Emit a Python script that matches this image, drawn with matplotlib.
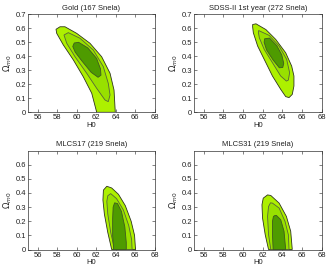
import numpy as np
import matplotlib
matplotlib.use('Agg')
import matplotlib.pyplot as plt

plt.rcParams['font.family'] = ['Liberation Sans', 'DejaVu Sans']

# Contour outlines (H0, Omega_m0): outer (3 sigma), middle (2 sigma), inner (1 sigma)
gold_outer_h = [57.88, 58.29, 58.8, 60.0, 61.37, 62.57, 63.43, 63.84, 63.97, 62.06, 61.55, 60.68, 59.66, 58.63, 57.95]
gold_outer_om = [0.593, 0.611, 0.611, 0.564, 0.493, 0.397, 0.279, 0.159, 0.0, 0.0, 0.136, 0.254, 0.374, 0.481, 0.564]
gold_mid_h = [58.7, 59.14, 60.34, 61.71, 62.74, 63.25, 63.43, 63.25, 62.91, 62.06, 61.03, 59.83, 58.98]
gold_mid_om = [0.552, 0.569, 0.529, 0.445, 0.326, 0.207, 0.124, 0.076, 0.088, 0.171, 0.279, 0.397, 0.493]
gold_in_h = [59.75, 60.2, 61.15, 62.05, 62.45, 62.5, 62.2, 61.5, 60.5, 59.85, 59.6]
gold_in_om = [0.495, 0.5, 0.46, 0.385, 0.31, 0.265, 0.25, 0.285, 0.37, 0.43, 0.47]

sdss_outer_h = [60.98, 61.32, 62.33, 63.34, 64.35, 64.96, 65.19, 65.19, 65.02, 64.69, 64.35, 63.84, 63.0, 62.16, 61.49, 61.05, 60.98]
sdss_outer_om = [0.627, 0.632, 0.591, 0.52, 0.425, 0.33, 0.259, 0.188, 0.128, 0.105, 0.112, 0.164, 0.259, 0.378, 0.473, 0.568, 0.61]
sdss_mid_h = [61.59, 62.67, 63.68, 64.45, 64.75, 64.62, 64.42, 63.84, 63.0, 62.16, 61.66, 61.56]
sdss_mid_om = [0.584, 0.549, 0.473, 0.378, 0.283, 0.23, 0.223, 0.259, 0.354, 0.449, 0.532, 0.572]
sdss_in_h = [62.2, 62.7, 63.45, 63.95, 64.15, 64.05, 63.7, 63.05, 62.4, 62.15]
sdss_in_om = [0.525, 0.53, 0.475, 0.41, 0.35, 0.32, 0.318, 0.375, 0.445, 0.5]

m17_outer_h = [62.75, 63.1, 63.6, 64.3, 65.0, 65.6, 65.95, 66.05, 63.6, 63.2, 62.85, 62.7]
m17_outer_om = [0.42, 0.447, 0.435, 0.39, 0.31, 0.2, 0.1, 0.0, 0.0, 0.12, 0.25, 0.35]
m17_mid_h = [63.2, 63.5, 64.1, 64.8, 65.35, 65.65, 65.7, 63.9, 63.5, 63.2, 63.1]
m17_mid_om = [0.38, 0.395, 0.36, 0.28, 0.17, 0.07, 0.0, 0.0, 0.12, 0.25, 0.34]
m17_in_h = [63.9, 64.2, 64.6, 64.95, 65.1, 65.1, 63.8, 63.7, 63.7, 63.75]
m17_in_om = [0.33, 0.325, 0.27, 0.16, 0.05, 0.0, 0.0, 0.1, 0.22, 0.3]

m31_outer_h = [62.06, 62.5, 62.83, 63.68, 64.42, 64.86, 65.02, 62.6, 62.26, 61.99, 61.93]
m31_outer_om = [0.363, 0.386, 0.382, 0.328, 0.234, 0.129, 0.0, 0.0, 0.105, 0.222, 0.316]
m31_mid_h = [62.8, 63.0, 63.68, 64.28, 64.62, 64.69, 62.83, 62.6, 62.5, 62.6]
m31_mid_om = [0.33, 0.328, 0.293, 0.199, 0.105, 0.0, 0.0, 0.105, 0.234, 0.304]
m31_in_h = [63.27, 63.4, 63.84, 64.18, 64.35, 63.07, 63.0, 63.0, 63.1]
m31_in_om = [0.241, 0.241, 0.211, 0.129, 0.0, 0.0, 0.105, 0.199, 0.234]

titles = ['Gold (167 Snela)', 'SDSS-II 1st year (272 Snela)', 'MLCS17 (219 Snela)', 'MLCS31 (219 Snela)']
panels = [
    [(gold_outer_h, gold_outer_om), (gold_mid_h, gold_mid_om), (gold_in_h, gold_in_om)],
    [(sdss_outer_h, sdss_outer_om), (sdss_mid_h, sdss_mid_om), (sdss_in_h, sdss_in_om)],
    [(m17_outer_h, m17_outer_om), (m17_mid_h, m17_mid_om), (m17_in_h, m17_in_om)],
    [(m31_outer_h, m31_outer_om), (m31_mid_h, m31_mid_om), (m31_in_h, m31_in_om)],
]
xticks = [56, 58, 60, 62, 64, 66, 68]
yticks_top = [0, 0.1, 0.2, 0.3, 0.4, 0.5, 0.6, 0.7]
yticks_bottom = [0, 0.1, 0.2, 0.3, 0.4, 0.5, 0.6]

fills = ['#adf000', '#98e000', '#4e9b00']
edges = ['#2e3320', '#56653a', '#3d5a20']

W, H = 331, 269
fig = plt.figure(figsize=(W / 100, H / 100), dpi=100)
rects = [
    [28 / W, 1 - 112.3 / H, 126.5 / W, 98 / H],
    [194 / W, 1 - 112.3 / H, 127.5 / W, 98 / H],
    [28 / W, 1 - 249.5 / H, 126.5 / W, 99 / H],
    [194 / W, 1 - 249.5 / H, 127.5 / W, 99 / H],
]

for i in range(4):
    ax = fig.add_axes(rects[i])
    for j, (h, om) in enumerate(panels[i]):
        ax.fill(h, om, facecolor=fills[j], edgecolor=edges[j], linewidth=0.6, zorder=2 + j)
    ax.set_xlim(55, 68)
    ax.set_ylim(0, 0.7)
    ax.set_xticks(xticks)
    yt = yticks_top if i < 2 else yticks_bottom
    ax.set_yticks(yt)
    ax.set_yticklabels(['0' if v == 0 else '%.1f' % v for v in yt])
    ax.tick_params(direction='in', length=2, width=0.4, labelsize=5.5, pad=1.5,
                   top=True, right=True, colors='#222222')
    for s in ax.spines.values():
        s.set_linewidth(0.5)
        s.set_color('#333333')
    ax.set_title(titles[i], fontsize=5.5, pad=3, color='#222222')
    ax.set_xlabel('H0', fontsize=5.5, labelpad=0.5, color='#222222')
    ax.set_ylabel('$\\Omega_{m0}$', fontsize=6, labelpad=1, color='#222222')

fig.savefig('out.png', dpi=100)
